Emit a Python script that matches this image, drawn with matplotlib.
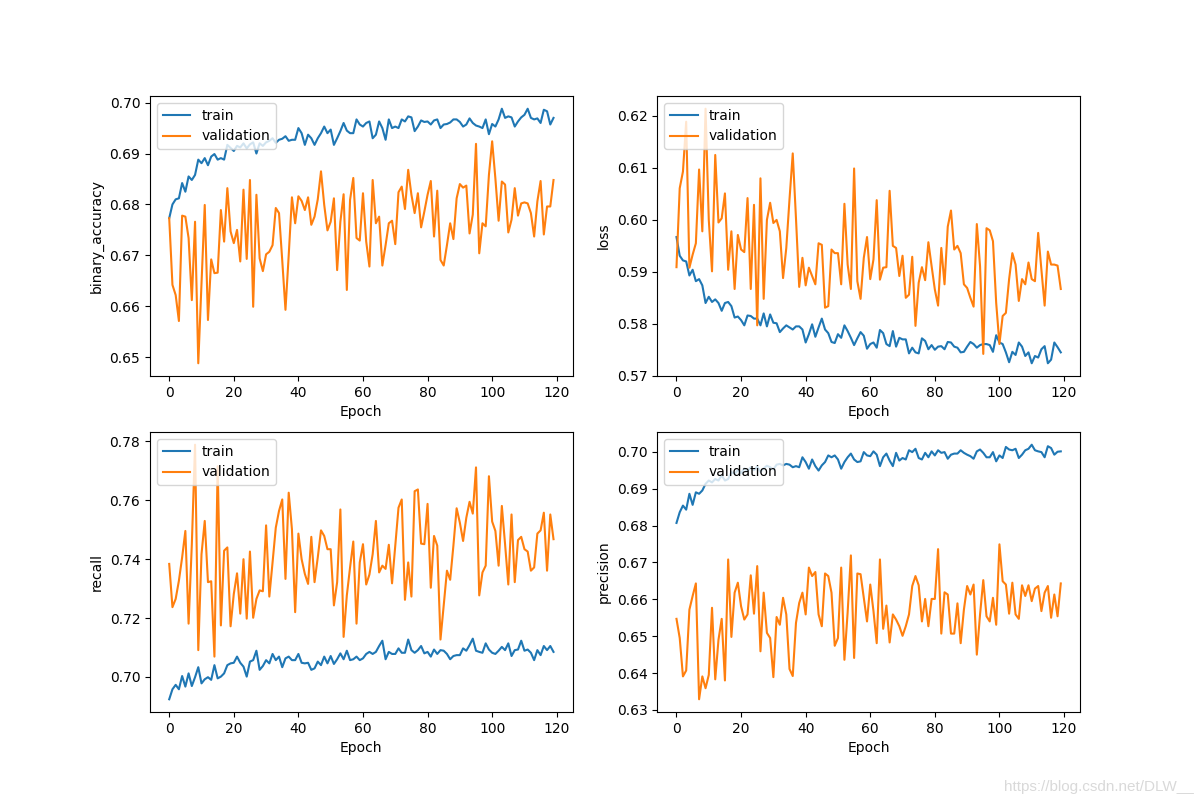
import matplotlib
matplotlib.use('Agg')
import matplotlib.pyplot as plt

# Training history (120 epochs)
acc_train = [
    0.6773, 0.6800, 0.6810, 0.6812, 0.6842, 0.6825, 0.6855, 0.6848, 0.6858, 0.6888,
    0.6881, 0.6891, 0.6877, 0.6894, 0.6899, 0.6888, 0.6891, 0.6888, 0.6917, 0.6911,
    0.6905, 0.6915, 0.6912, 0.6920, 0.6910, 0.6918, 0.6922, 0.6900, 0.6920, 0.6915,
    0.6922, 0.6925, 0.6930, 0.6921, 0.6927, 0.6929, 0.6934, 0.6925, 0.6927, 0.6927,
    0.6950, 0.6940, 0.6917, 0.6937, 0.6930, 0.6917, 0.6930, 0.6940, 0.6953, 0.6940,
    0.6947, 0.6917, 0.6930, 0.6944, 0.6960, 0.6945, 0.6940, 0.6940, 0.6967, 0.6957,
    0.6953, 0.6960, 0.6963, 0.6930, 0.6937, 0.6963, 0.6950, 0.6927, 0.6967, 0.6950,
    0.6953, 0.6950, 0.6967, 0.6963, 0.6973, 0.6971, 0.6944, 0.6953, 0.6965, 0.6962,
    0.6963, 0.6957, 0.6965, 0.6967, 0.6950, 0.6957, 0.6958, 0.6961, 0.6967, 0.6967,
    0.6962, 0.6953, 0.6957, 0.6969, 0.6960, 0.6955, 0.6953, 0.6950, 0.6967, 0.6938,
    0.6958, 0.6953, 0.6967, 0.6988, 0.6970, 0.6973, 0.6971, 0.6953, 0.6963, 0.6971,
    0.6976, 0.6988, 0.6970, 0.6967, 0.6969, 0.6960, 0.6986, 0.6983, 0.6957, 0.6970,
]
acc_val = [
    0.6773, 0.6642, 0.6622, 0.6571, 0.6778, 0.6776, 0.6734, 0.6612, 0.6766, 0.6488,
    0.6645, 0.6799, 0.6573, 0.6692, 0.6665, 0.6666, 0.6789, 0.6727, 0.6832, 0.6747,
    0.6724, 0.6750, 0.6688, 0.6829, 0.6693, 0.6848, 0.6599, 0.6819, 0.6694, 0.6669,
    0.6702, 0.6707, 0.6720, 0.6793, 0.6783, 0.6690, 0.6593, 0.6700, 0.6814, 0.6763,
    0.6816, 0.6807, 0.6789, 0.6814, 0.6760, 0.6776, 0.6810, 0.6865, 0.6799, 0.6749,
    0.6766, 0.6812, 0.6671, 0.6766, 0.6820, 0.6632, 0.6809, 0.6852, 0.6734, 0.6729,
    0.6822, 0.6727, 0.6678, 0.6848, 0.6763, 0.6776, 0.6680, 0.6720, 0.6763, 0.6768,
    0.6722, 0.6824, 0.6835, 0.6791, 0.6868, 0.6819, 0.6783, 0.6822, 0.6755, 0.6786,
    0.6819, 0.6846, 0.6737, 0.6827, 0.6691, 0.6680, 0.6720, 0.6763, 0.6732, 0.6812,
    0.6840, 0.6833, 0.6837, 0.6743, 0.6780, 0.6919, 0.6704, 0.6763, 0.6757, 0.6858,
    0.6924, 0.6851, 0.6768, 0.6845, 0.6839, 0.6745, 0.6770, 0.6832, 0.6778, 0.6802,
    0.6804, 0.6802, 0.6783, 0.6737, 0.6806, 0.6846, 0.6741, 0.6796, 0.6796, 0.6848,
]

loss_train = [
    0.5967, 0.5931, 0.5922, 0.5920, 0.5893, 0.5904, 0.5882, 0.5886, 0.5874, 0.5840,
    0.5852, 0.5842, 0.5847, 0.5840, 0.5825, 0.5840, 0.5842, 0.5834, 0.5812, 0.5814,
    0.5807, 0.5797, 0.5816, 0.5815, 0.5810, 0.5810, 0.5797, 0.5820, 0.5795, 0.5818,
    0.5802, 0.5801, 0.5784, 0.5791, 0.5797, 0.5793, 0.5789, 0.5795, 0.5795, 0.5789,
    0.5764, 0.5780, 0.5799, 0.5775, 0.5793, 0.5810, 0.5789, 0.5782, 0.5765, 0.5763,
    0.5780, 0.5773, 0.5797, 0.5786, 0.5773, 0.5759, 0.5772, 0.5784, 0.5777, 0.5752,
    0.5761, 0.5764, 0.5754, 0.5788, 0.5782, 0.5761, 0.5757, 0.5786, 0.5756, 0.5773,
    0.5770, 0.5770, 0.5743, 0.5754, 0.5745, 0.5743, 0.5772, 0.5767, 0.5751, 0.5759,
    0.5750, 0.5756, 0.5757, 0.5751, 0.5765, 0.5764, 0.5756, 0.5754, 0.5745, 0.5746,
    0.5756, 0.5765, 0.5761, 0.5754, 0.5759, 0.5761, 0.5761, 0.5759, 0.5746, 0.5778,
    0.5764, 0.5761, 0.5745, 0.5726, 0.5746, 0.5740, 0.5764, 0.5756, 0.5738, 0.5745,
    0.5724, 0.5738, 0.5735, 0.5751, 0.5757, 0.5724, 0.5731, 0.5764, 0.5755, 0.5745,
]
loss_val = [
    0.5909, 0.6061, 0.6093, 0.6189, 0.5908, 0.5933, 0.5955, 0.6097, 0.5978, 0.6214,
    0.6000, 0.5901, 0.6125, 0.5995, 0.6003, 0.6051, 0.5904, 0.5978, 0.5867, 0.5971,
    0.5943, 0.5938, 0.6042, 0.5867, 0.6029, 0.5797, 0.6080, 0.5848, 0.6000, 0.6033,
    0.5994, 0.6000, 0.5978, 0.5888, 0.5946, 0.6040, 0.6128, 0.6003, 0.5871, 0.5927,
    0.5874, 0.5908, 0.5892, 0.5876, 0.5955, 0.5952, 0.5831, 0.5834, 0.5943, 0.5936,
    0.5936, 0.5876, 0.6031, 0.5914, 0.5867, 0.6099, 0.5882, 0.5848, 0.5927, 0.5967,
    0.5886, 0.5924, 0.6038, 0.5885, 0.5908, 0.5909, 0.6056, 0.5950, 0.5946, 0.5892,
    0.5931, 0.5850, 0.5856, 0.5929, 0.5796, 0.5879, 0.5909, 0.5884, 0.5957, 0.5911,
    0.5866, 0.5835, 0.5946, 0.5876, 0.5987, 0.6018, 0.5943, 0.5950, 0.5936, 0.5876,
    0.5869, 0.5850, 0.5833, 0.5992, 0.5911, 0.5742, 0.5984, 0.5980, 0.5959, 0.5840,
    0.5761, 0.5815, 0.5821, 0.5886, 0.5936, 0.5914, 0.5844, 0.5886, 0.5876, 0.5918,
    0.5886, 0.5882, 0.5975, 0.5904, 0.5835, 0.5939, 0.5914, 0.5914, 0.5912, 0.5867,
]

recall_train = [
    0.6924, 0.6958, 0.6973, 0.6958, 0.7003, 0.6967, 0.7012, 0.6969, 0.6999, 0.7033,
    0.6978, 0.6992, 0.6999, 0.6990, 0.7040, 0.6995, 0.7001, 0.7012, 0.7040, 0.7046,
    0.7048, 0.7069, 0.7048, 0.7035, 0.7001, 0.7052, 0.7057, 0.7089, 0.7024, 0.7037,
    0.7057, 0.7046, 0.7078, 0.7057, 0.7069, 0.7033, 0.7063, 0.7069, 0.7057, 0.7057,
    0.7078, 0.7048, 0.7046, 0.7048, 0.7024, 0.7029, 0.7052, 0.7040, 0.7069, 0.7046,
    0.7071, 0.7044, 0.7060, 0.7080, 0.7060, 0.7089, 0.7057, 0.7060, 0.7069, 0.7057,
    0.7063, 0.7078, 0.7085, 0.7078, 0.7085, 0.7105, 0.7123, 0.7060, 0.7085, 0.7078,
    0.7078, 0.7097, 0.7082, 0.7082, 0.7127, 0.7091, 0.7082, 0.7091, 0.7105, 0.7080,
    0.7085, 0.7069, 0.7093, 0.7078, 0.7091, 0.7089, 0.7078, 0.7060, 0.7071, 0.7074,
    0.7074, 0.7097, 0.7089, 0.7108, 0.7130, 0.7089, 0.7085, 0.7082, 0.7114, 0.7093,
    0.7082, 0.7078, 0.7089, 0.7102, 0.7091, 0.7114, 0.7071, 0.7091, 0.7093, 0.7123,
    0.7089, 0.7093, 0.7082, 0.7057, 0.7091, 0.7074, 0.7105, 0.7091, 0.7105, 0.7085,
]
recall_val = [
    0.7384, 0.7237, 0.7265, 0.7327, 0.7406, 0.7496, 0.7181, 0.7450, 0.7789, 0.7091,
    0.7417, 0.7530, 0.7322, 0.7325, 0.7069, 0.7716, 0.7175, 0.7429, 0.7440, 0.7172,
    0.7282, 0.7352, 0.7215, 0.7400, 0.7198, 0.7426, 0.7201, 0.7265, 0.7294, 0.7291,
    0.7515, 0.7273, 0.7389, 0.7507, 0.7564, 0.7603, 0.7333, 0.7626, 0.7502, 0.7220,
    0.7487, 0.7400, 0.7350, 0.7316, 0.7476, 0.7322, 0.7406, 0.7498, 0.7479, 0.7434,
    0.7434, 0.7243, 0.7322, 0.7569, 0.7136, 0.7277, 0.7372, 0.7460, 0.7181, 0.7389,
    0.7451, 0.7314, 0.7348, 0.7417, 0.7530, 0.7355, 0.7378, 0.7367, 0.7449, 0.7318,
    0.7446, 0.7575, 0.7603, 0.7262, 0.7389, 0.7273, 0.7631, 0.7637, 0.7453, 0.7451,
    0.7588, 0.7303, 0.7479, 0.7446, 0.7127, 0.7243, 0.7361, 0.7330, 0.7446, 0.7573,
    0.7524, 0.7462, 0.7541, 0.7595, 0.7555, 0.7712, 0.7277, 0.7355, 0.7378, 0.7682,
    0.7528, 0.7496, 0.7378, 0.7581, 0.7451, 0.7314, 0.7552, 0.7322, 0.7465, 0.7476,
    0.7434, 0.7426, 0.7361, 0.7372, 0.7487, 0.7498, 0.7558, 0.7361, 0.7552, 0.7468,
]

precision_train = [
    0.6807, 0.6836, 0.6854, 0.6843, 0.6886, 0.6856, 0.6890, 0.6886, 0.6895, 0.6913,
    0.6922, 0.6917, 0.6926, 0.6922, 0.6936, 0.6922, 0.6926, 0.6945, 0.6940, 0.6950,
    0.6942, 0.6955, 0.6948, 0.6958, 0.6950, 0.6960, 0.6945, 0.6955, 0.6962, 0.6958,
    0.6952, 0.6965, 0.6967, 0.6963, 0.6967, 0.6965, 0.6958, 0.6961, 0.6958, 0.6985,
    0.6972, 0.6954, 0.6979, 0.6961, 0.6949, 0.6963, 0.6972, 0.6990, 0.6985, 0.6990,
    0.6979, 0.6954, 0.6972, 0.6985, 0.6995, 0.6979, 0.6972, 0.6974, 0.6999, 0.6990,
    0.6988, 0.7001, 0.6992, 0.6961, 0.6985, 0.6995, 0.6976, 0.6961, 0.6997, 0.6976,
    0.6983, 0.6979, 0.7004, 0.6999, 0.7008, 0.6983, 0.6979, 0.6997, 0.6985, 0.7001,
    0.6990, 0.7004, 0.6997, 0.6999, 0.6981, 0.6992, 0.6995, 0.6995, 0.7004, 0.6997,
    0.6992, 0.6988, 0.6981, 0.7001, 0.7006, 0.6997, 0.6985, 0.6985, 0.6999, 0.6974,
    0.6990, 0.6983, 0.7013, 0.7006, 0.7004, 0.7008, 0.6983, 0.6992, 0.7004, 0.7008,
    0.7019, 0.7004, 0.7001, 0.6999, 0.6985, 0.7015, 0.7010, 0.6992, 0.7000, 0.7001,
]
precision_val = [
    0.6547, 0.6495, 0.6391, 0.6407, 0.6572, 0.6609, 0.6643, 0.6329, 0.6391, 0.6359,
    0.6395, 0.6577, 0.6383, 0.6490, 0.6547, 0.6380, 0.6708, 0.6498, 0.6618, 0.6645,
    0.6581, 0.6545, 0.6559, 0.6665, 0.6561, 0.6690, 0.6459, 0.6618, 0.6509, 0.6495,
    0.6389, 0.6552, 0.6531, 0.6604, 0.6559, 0.6411, 0.6392, 0.6536, 0.6590, 0.6618,
    0.6559, 0.6686, 0.6663, 0.6674, 0.6559, 0.6527, 0.6670, 0.6663, 0.6618, 0.6474,
    0.6495, 0.6686, 0.6436, 0.6565, 0.6719, 0.6441, 0.6670, 0.6668, 0.6604, 0.6540,
    0.6640, 0.6568, 0.6481, 0.6708, 0.6520, 0.6583, 0.6483, 0.6559, 0.6545, 0.6527,
    0.6501, 0.6527, 0.6559, 0.6636, 0.6663, 0.6638, 0.6540, 0.6601, 0.6527, 0.6601,
    0.6601, 0.6736, 0.6507, 0.6619, 0.6613, 0.6507, 0.6507, 0.6589, 0.6481, 0.6572,
    0.6636, 0.6613, 0.6640, 0.6450, 0.6559, 0.6652, 0.6554, 0.6540, 0.6604, 0.6531,
    0.6749, 0.6649, 0.6640, 0.6561, 0.6645, 0.6559, 0.6547, 0.6638, 0.6609, 0.6638,
    0.6595, 0.6629, 0.6636, 0.6568, 0.6618, 0.6636, 0.6550, 0.6613, 0.6554, 0.6643,
]

metrics = ['binary_accuracy', 'loss', 'recall', 'precision']
history = {
    'binary_accuracy': (acc_train, acc_val),
    'loss': (loss_train, loss_val),
    'recall': (recall_train, recall_val),
    'precision': (precision_train, precision_val),
}


def plot_history():
    fig = plt.figure(figsize=(12, 8), dpi=100)
    for i, name in enumerate(metrics):
        train, val = history[name]
        plt.subplot(2, 2, i + 1)
        plt.plot(train)
        plt.plot(val)
        plt.ylabel(name)
        plt.xlabel('Epoch')
        plt.legend(['train', 'validation'], loc='upper left')

    # blog watermark in the bottom right corner
    fig.text(0.995, 0.008, 'https://blog.csdn.net/DLW__', ha='right', va='bottom',
             color='#d9d9d9', fontsize=11, family='Liberation Sans')
    plt.savefig('out.png', dpi=100)
    plt.close()


if __name__ == '__main__':
    plot_history()
